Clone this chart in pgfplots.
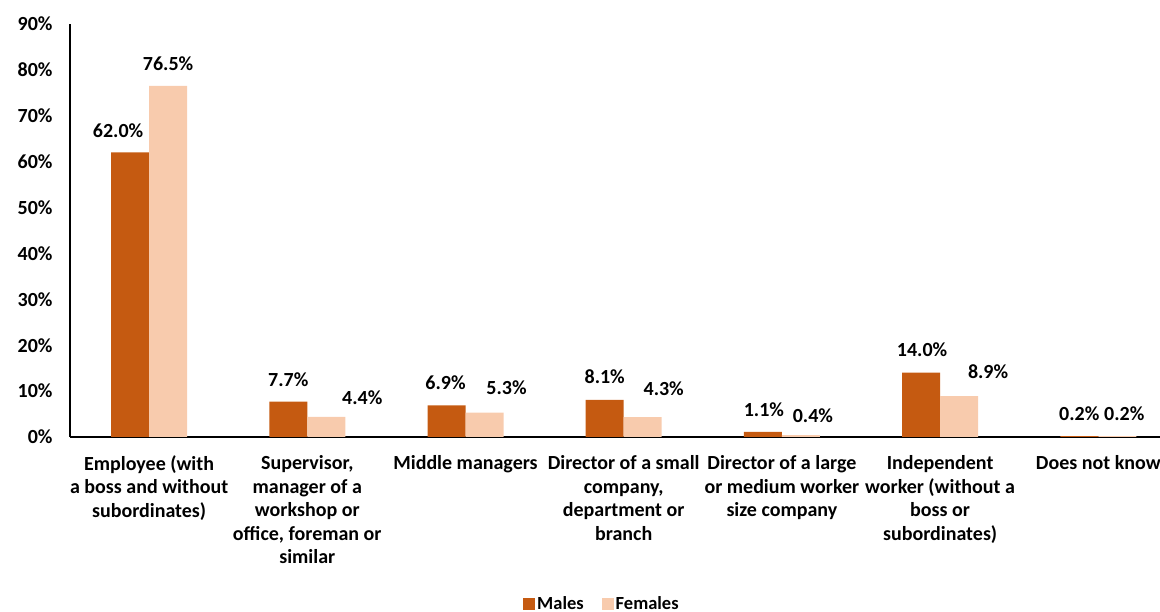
\documentclass[border=0pt]{standalone}
\usepackage{fontspec}
\setmainfont{Carlito}
\usepackage{pgfplots}
\usepackage{pgfplotstable}
\pgfplotsset{compat=1.18}

\definecolor{males}{RGB}{197,90,17}
\definecolor{females}{RGB}{248,203,173}

% value, then label offset (x, y) from bar top, in bp
\pgfplotstableread{
x males mdx mdy females fdx fdy
0 62.0 -12 22   76.5 0  22
1 7.7   0  22   4.4  36 19.5
2 6.9  -1  22.5 5.3  22 25
3 8.1   0  23   4.3  21 29
4 1.1   1  22   0.4  12 19
5 14.0  1  23   8.9  29 24
6 0.2   0  22   0.2  7  22
}\datatable

\begin{document}
\begin{tikzpicture}
\begin{axis}[
  scale only axis,
  width=1090bp, height=413bp,
  ymin=0, ymax=90,
  xmin=-0.5, xmax=6.39,
  ybar, bar width=38bp, 
  axis x line*=bottom, axis y line*=left,
  axis line style={black, line width=2.2bp, -},
  major tick length=0,
  ytick={0,10,...,90},
  yticklabel={\pgfmathprintnumber{\tick}\%},
  /pgf/number format/assume math mode=true,
  yticklabel style={font=\fontsize{20bp}{24bp}\selectfont\bfseries, xshift=-14bp},
  xtick=data,
  xticklabels={
    {Employee (with\\a boss and without\\subordinates)},
    {Supervisor,\\manager of a\\workshop or\\office, foreman or\\similar},
    {Middle managers},
    {Director of a small\\company,\\department or\\branch},
    {Director of a large\\or medium worker\\size company},
    {Independent\\worker (without a\\boss or\\subordinates)},
    {Does not know}},
  xticklabel style={font=\fontsize{20bp}{23.5bp}\selectfont\bfseries, align=center, yshift=-15bp},
  nodes near coords={\pgfmathprintnumber[fixed,fixed zerofill,precision=1]{\pgfplotspointmeta}\%},
  nodes near coords style={font=\fontsize{20bp}{24bp}\selectfont\bfseries, anchor=center, text=black},
  legend style={at={(0.488,-0.404)}, anchor=center, draw=none, fill=none,
    font=\fontsize{18.5bp}{22bp}\selectfont\bfseries, legend columns=2,
    /tikz/every even column/.append style={column sep=16bp}},
  legend image code/.code={\fill[#1] (-3bp,-6bp) rectangle (9bp,6bp);},
  clip=false,
]
\addplot[fill=males, draw=none, bar shift=-19bp,
  visualization depends on={\thisrow{mdx} \as \ldx},
  visualization depends on={\thisrow{mdy} \as \ldy},
  every node near coord/.append style={xshift=\ldx bp, yshift=\ldy bp}]
  table[x=x, y=males] {\datatable};
\addlegendentry{Males}
\addplot[fill=females, draw=none, bar shift=19bp,
  visualization depends on={\thisrow{fdx} \as \ldx},
  visualization depends on={\thisrow{fdy} \as \ldy},
  every node near coord/.append style={xshift=\ldx bp, yshift=\ldy bp}]
  table[x=x, y=females] {\datatable};
\addlegendentry{Females}
\end{axis}
\pgfresetboundingbox
\path[use as bounding box] ([xshift=-70bp, yshift=-175bp]current axis.south west) rectangle ([yshift=24bp]current axis.north east);
\end{tikzpicture}
\end{document}
